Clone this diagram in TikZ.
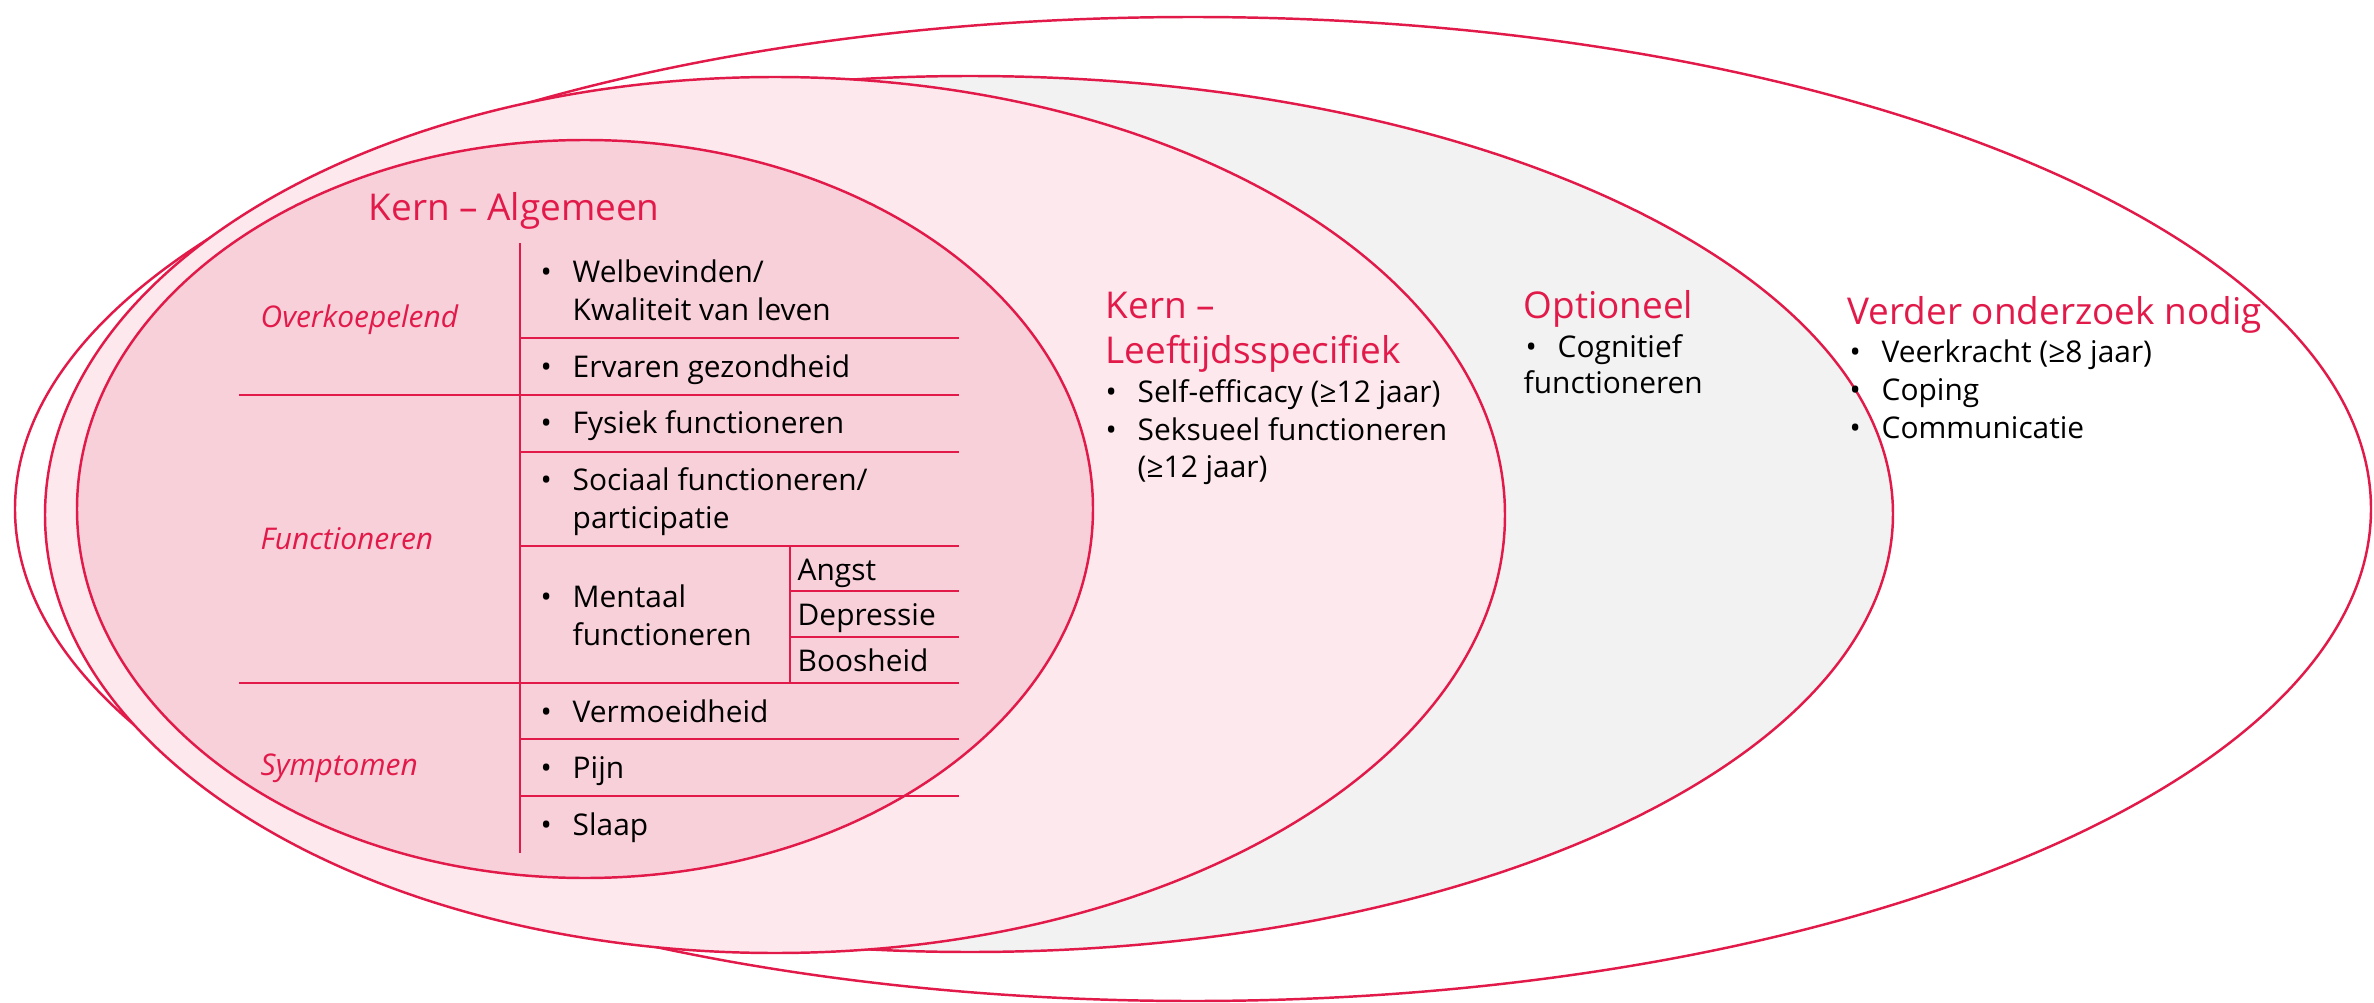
\documentclass[tikz,border=0pt]{standalone}
\usepackage{fontspec}
\setmainfont{Open Sans}
\definecolor{kernred}{RGB}{226,26,74}
\definecolor{kernpink}{RGB}{248,208,218}
\definecolor{leefpink}{RGB}{252,232,237}
\definecolor{optgrey}{RGB}{242,242,242}
\newcommand{\bul}{\makebox[0.32cm][l]{•}}

\begin{document}
\begin{tikzpicture}[
        x=0.01cm, y=-0.01cm,
        ring/.style={draw=kernred, line width=0.7pt},
        rule/.style={draw=kernred, line width=0.8pt},
        head/.style={anchor=base west, inner sep=0pt, text=kernred, font=\fontsize{10.5}{12.8}\selectfont},
        item/.style={anchor=base west, inner sep=0pt, font=\fontsize{8.5}{10.8}\selectfont},
        group/.style={anchor=west, inner sep=0pt, text=kernred, font=\fontsize{8.5}{10.8}\selectfont\itshape}
    ]
    \useasboundingbox (0,0) rectangle (2374,1003);

    % Rings, outer to inner
    \draw[ring, fill=white] (1193,509) ellipse [x radius=1178, y radius=492];
    \draw[ring, fill=optgrey] (970,514) ellipse [x radius=923, y radius=438];
    \draw[ring, fill=leefpink] (775,515) ellipse [x radius=730, y radius=438];
    \draw[ring, fill=kernpink] (585,509) ellipse [x radius=508, y radius=369];

    % Kern - Algemeen
    \node[head] (alg) at (368,220) {Kern – Algemeen};

    % Table rules
    \draw[rule] (520,243) -- (520,853);
    \draw[rule] (790,546) -- (790,683);
    \foreach \y in {338,452,546,739,796}
        \draw[rule] (520,\y) -- (959,\y);
    \foreach \y in {395,683}
        \draw[rule] (239,\y) -- (959,\y);
    \foreach \y in {591,637}
        \draw[rule] (790,\y) -- (959,\y);

    % Groups
    \node[group] (overk) at (260,320) {Overkoepelend};
    \node[group] (funct) at (260,539) {Functioneren};
    \node[group] (sympt) at (260,768) {Symptomen};

    % Items
    \node[item] (welb) at (540,282) {\bul Welbevinden/};
    \node[item] (kwal) at (572,320) {Kwaliteit van leven};
    \node[item] (erv) at (540,377) {\bul Ervaren gezondheid};
    \node[item] (fys) at (540,433) {\bul Fysiek functioneren};
    \node[item] (soc) at (540,490) {\bul Sociaal functioneren/};
    \node[item] (part) at (572,528) {participatie};
    \node[item] (ment) at (540,607) {\bul Mentaal};
    \node[item] (mentf) at (572,645) {functioneren};
    \node[item] (angst) at (797,580) {Angst};
    \node[item] (depr) at (797,625) {Depressie};
    \node[item] (boos) at (797,671) {Boosheid};
    \node[item] (verm) at (540,722) {\bul Vermoeidheid};
    \node[item] (pijn) at (540,778) {\bul Pijn};
    \node[item] (slaap) at (540,835) {\bul Slaap};

    % Kern - Leeftijdsspecifiek
    \node[head] (leef) at (1105,318) {Kern –};
    \node[head] (leefb) at (1105,363) {Leeftijdsspecifiek};
    \node[item] (self) at (1105,402) {\bul Self-efficacy (≥12 jaar)};
    \node[item] (seks) at (1105,440) {\bul Seksueel functioneren};
    \node[item] (seksb) at (1137,477) {(≥12 jaar)};

    % Optioneel
    \node[head] (opt) at (1523,318) {Optioneel};
    \node[item] (cogn) at (1525,357) {\bul Cognitief};
    \node[item] (cognb) at (1523,393) {functioneren};

    % Verder onderzoek nodig
    \node[head] (verder) at (1847,324) {Verder onderzoek nodig};
    \node[item] (veer) at (1849,362) {\bul Veerkracht (≥8 jaar)};
    \node[item] (cop) at (1849,400) {\bul Coping};
    \node[item] (comm) at (1849,438) {\bul Communicatie};

\end{tikzpicture}
\end{document}
